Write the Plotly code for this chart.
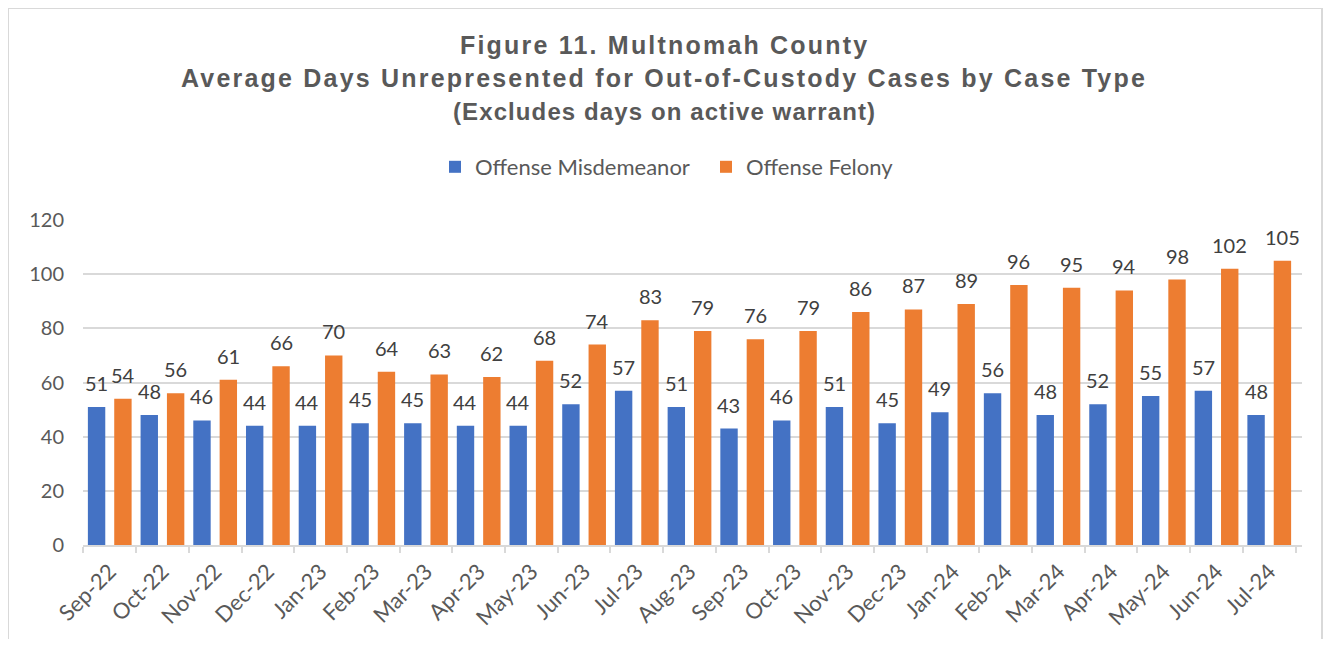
import plotly.graph_objects as go

months = ["Sep-22", "Oct-22", "Nov-22", "Dec-22", "Jan-23", "Feb-23", "Mar-23", "Apr-23",
          "May-23", "Jun-23", "Jul-23", "Aug-23", "Sep-23", "Oct-23", "Nov-23", "Dec-23",
          "Jan-24", "Feb-24", "Mar-24", "Apr-24", "May-24", "Jun-24", "Jul-24"]
misdemeanor = [51, 48, 46, 44, 44, 45, 45, 44, 44, 52, 57, 51, 43, 46, 51, 45, 49, 56, 48, 52, 55, 57, 48]
felony = [54, 56, 61, 66, 70, 64, 63, 62, 68, 74, 83, 79, 76, 79, 86, 87, 89, 96, 95, 94, 98, 102, 105]
y_ticks = [0, 20, 40, 60, 80, 100, 120]
title_lines = ["Figure 11. Multnomah County",
               "Average Days Unrepresented for Out-of-Custody Cases by Case Type",
               "(Excludes days on active warrant)"]

BLUE = "#4472C4"
ORANGE = "#ED7D31"
FONT = "Lato"
OFF = 8  # page body margin
W, H = 1333 - 2 * OFF, 647 - 2 * OFF
# plot area in screen pixels
PX0, PX1, PY0, PY1 = 83, 1302, 220, 545
L, R, T, B = PX0 - OFF, (W + OFF) - PX1, PY0 - OFF, (H + OFF) - PY1
plot_w = PX1 - PX0
plot_h = PY1 - PY0


def sx(px):
    return (px - PX0) / plot_w


def sy(py):
    return (PY1 - py) / plot_h


fig = go.Figure()
fig.add_trace(go.Bar(x=months, y=misdemeanor, name="Offense Misdemeanor", marker_color=BLUE,
                     marker_line_width=0))
fig.add_trace(go.Bar(x=months, y=felony, name="Offense Felony", marker_color=ORANGE,
                     marker_line_width=0))

bargap = 0.0
bargroupgap = 0.34
cat_w = plot_w / len(months)
slot = cat_w * (1 - bargap) / 2
shift = slot / 2

annots = []
for series, sgn in ((misdemeanor, -1), (felony, 1)):
    for m, v in zip(months, series):
        annots.append(dict(x=m, y=v, xref="x", yref="y", text=str(v), showarrow=False,
                           xshift=sgn * shift, yshift=24, yanchor="middle",
                           font=dict(family=FONT, size=20, color="#404040")))

for line, ty, fs, ls in zip(title_lines, (45, 78, 111), (25, 25, 24), (2.2, 2.2, 1.1)):
    annots.append(dict(x=sx(664), y=sy(ty), xref="paper", yref="paper",
                       text="<span style='letter-spacing:%.1fpx'>" % ls + line + "</span>",
                       showarrow=False, xanchor="center", yanchor="middle",
                       font=dict(family="Liberation Sans", size=fs, color="#595959", weight="bold")))

fig.update_layout(
    width=W, height=H,
    margin=dict(l=L, r=R, t=T, b=B, autoexpand=False),
    paper_bgcolor="white", plot_bgcolor="white",
    barmode="group", bargap=bargap, bargroupgap=bargroupgap,
    legend=dict(orientation="h", x=sx(435), xanchor="left", y=sy(167), yanchor="middle",
                font=dict(family=FONT, size=22, color="#595959"), traceorder="normal",
                entrywidth=226, entrywidthmode="pixels"),
    annotations=annots,
    shapes=[dict(type="rect", xref="paper", yref="paper",
                 x0=sx(8), x1=sx(1322), y0=sy(660), y1=sy(8),
                 line=dict(color="#d9d9d9", width=2), fillcolor="rgba(0,0,0,0)", layer="below")],
    xaxis=dict(type="category", tickangle=-45, tickson="boundaries", ticks="outside",
               ticklen=6, tickcolor="#d9d9d9", tickwidth=2, showline=True, linecolor="#d9d9d9",
               linewidth=2, ticklabelstandoff=3, automargin=False,
               tickfont=dict(family=FONT, size=22, color="#595959"), showgrid=False),
    yaxis=dict(range=[0, 120], tickvals=y_ticks, showgrid=True, gridcolor="#d9d9d9", gridwidth=2,
               zeroline=False, showline=False, ticks="", ticklabelstandoff=18, automargin=False,
               tickfont=dict(family=FONT, size=20, color="#595959")),
)

fig.write_html("out.html")
